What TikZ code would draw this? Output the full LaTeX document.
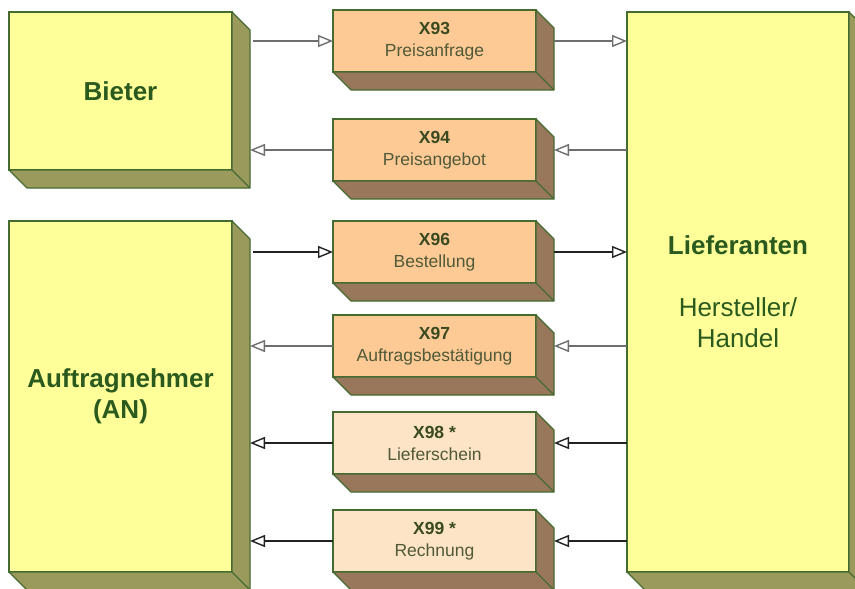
\documentclass[tikz,border=0pt]{standalone}
\usepackage{fontspec}
\setmainfont{Liberation Sans}
\usetikzlibrary{arrows.meta,calc}
\definecolor{face}{HTML}{FFFF99}
\definecolor{olivec}{HTML}{9A9A5C}
\definecolor{edgec}{HTML}{456B30}
\definecolor{orangeface}{HTML}{FDC995}
\definecolor{lightface}{HTML}{FDE4C6}
\definecolor{brownc}{HTML}{98775A}
\definecolor{bigtext}{HTML}{2A5A1E}
\definecolor{numtext}{HTML}{3A4A20}
\definecolor{desctext}{HTML}{505A38}
\definecolor{grayline}{HTML}{6E6E6E}
\definecolor{darkline}{HTML}{222222}
\tikzset{
  front/.style={draw=edgec, line width=1.1pt, inner sep=0pt, outer sep=0pt, align=center},
  bigbox/.style={front, fill=face, text=bigtext, font=\fontsize{26}{31}\selectfont\bfseries},
  msgbox/.style={front, fill=orangeface, minimum width=203pt, minimum height=62pt, font=\fontsize{17.5}{22}\selectfont},
  lightbox/.style={msgbox, fill=lightface},
  extr/.style={draw=edgec, line width=1.1pt, line join=round},
  tip/.style={-{Triangle[open,fill=white,length=15pt,width=12pt,line width=1.4pt]}},
  arrgray/.style={tip, line width=1.8pt, draw=grayline},
  arrdark/.style={tip, line width=1.2pt, draw=darkline}
}
\newcommand{\extrude}[2]{%
  \filldraw[extr, fill=#2] (#1.north east) -- ++(18,18) -- ($(#1.south east)+(18,18)$) -- ($(#1.south west)+(18,18)$) -- (#1.south west) -- (#1.south east) -- cycle;
  \draw[extr] (#1.south east) -- ++(18,18);
}
\newcommand{\msg}[2]{{\bfseries\color{numtext}#1}\\{\color{desctext}#2}}
\begin{document}
\begin{tikzpicture}[x=1pt,y=-1pt]
  \fill[white] (0,0) rectangle (855,589);
  \useasboundingbox (0,0) rectangle (855,589);
  \clip (0,0) rectangle (855,589);

  \node[bigbox, minimum width=223pt, minimum height=158pt] (Bieter) at (120.5,91) {Bieter};
  \node[bigbox, minimum width=223pt, minimum height=351pt] (AN) at (120.5,396.5) {Auftragnehmer\\(AN)};
  \node[bigbox, minimum width=222pt, minimum height=560pt] (Lief) at (738,292)
     {Lieferanten\\[31pt]{\mdseries Hersteller/}\\{\mdseries Handel}};

  \node[msgbox] (X93) at (434.5,41) {\msg{X93}{Preisanfrage}};
  \node[msgbox] (X94) at (434.5,150) {\msg{X94}{Preisangebot}};
  \node[msgbox] (X96) at (434.5,252) {\msg{X96}{Bestellung}};
  \node[msgbox] (X97) at (434.5,346) {\msg{X97}{Auftragsbestätigung}};
  \node[lightbox] (X98) at (434.5,443) {\msg{X98 *}{Lieferschein}};
  \node[lightbox] (X99) at (434.5,541) {\msg{X99 *}{Rechnung}};

  \extrude{Bieter}{olivec}
  \extrude{AN}{olivec}
  \extrude{Lief}{olivec}
  \extrude{X93}{brownc}
  \extrude{X94}{brownc}
  \extrude{X96}{brownc}
  \extrude{X97}{brownc}
  \extrude{X98}{brownc}
  \extrude{X99}{brownc}

  \draw[arrgray] ($(Bieter.east |- X93.west)+(21,0)$) -- (X93.west);
  \draw[arrgray] ($(X93.east)+(18,0)$) -- (X93.east -| Lief.west);
  \draw[arrgray] (X94.east -| Lief.west) -- ($(X94.east)+(18,0)$);
  \draw[arrgray] (X94.west) -- ($(Bieter.east |- X94.west)+(18,0)$);

  \draw[arrdark] ($(AN.east |- X96.west)+(21,0)$) -- (X96.west);
  \draw[arrdark] ($(X96.east)+(18,0)$) -- (X96.east -| Lief.west);
  \draw[arrgray] (X97.east -| Lief.west) -- ($(X97.east)+(18,0)$);
  \draw[arrgray] (X97.west) -- ($(AN.east |- X97.west)+(18,0)$);
  \draw[arrdark] (X98.east -| Lief.west) -- ($(X98.east)+(18,0)$);
  \draw[arrdark] (X98.west) -- ($(AN.east |- X98.west)+(18,0)$);
  \draw[arrdark] (X99.east -| Lief.west) -- ($(X99.east)+(18,0)$);
  \draw[arrdark] (X99.west) -- ($(AN.east |- X99.west)+(18,0)$);
\end{tikzpicture}
\end{document}
